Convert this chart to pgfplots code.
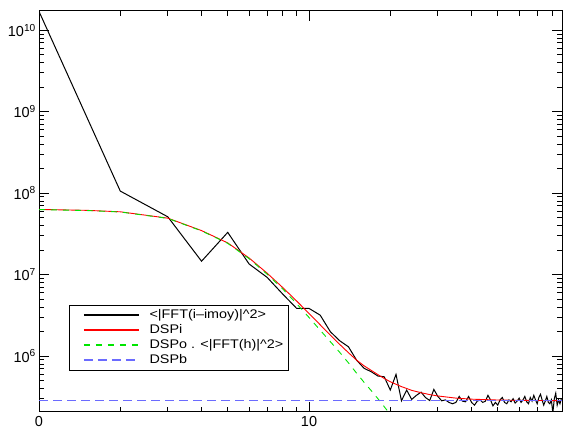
\documentclass[border=0pt]{standalone}
\usepackage{pgfplots}
\pgfplotsset{compat=1.18}
\usepackage{fontspec}
\setmainfont{Liberation Sans}
\newfontfamily\legfont[FakeStretch=1.15]{Liberation Sans}
\definecolor{dspb}{rgb}{0.42,0.42,1}
\definecolor{dspo}{rgb}{0,0.9,0}
\begin{document}
\begin{tikzpicture}
\begin{axis}[
  xmode=log, ymode=log,
  scale only axis, width=523pt, height=401pt,
  xmin=1, xmax=86.5, ymin=2.06e5, ymax=1.72e10,
  xtick={1,10}, xticklabels={0,10},
  minor xtick={2,3,4,5,6,7,8,9,20,30,40,50,60,70,80},
  ytick={1e6,1e7,1e8,1e9,1e10},
  yticklabels={10\textsuperscript{6},10\textsuperscript{7},10\textsuperscript{8},10\textsuperscript{9},10\textsuperscript{10}},
  minor ytick={3e5,4e5,5e5,6e5,7e5,8e5,9e5,2e6,3e6,4e6,5e6,6e6,7e6,8e6,9e6,2e7,3e7,4e7,5e7,6e7,7e7,8e7,9e7,2e8,3e8,4e8,5e8,6e8,7e8,8e8,9e8,2e9,3e9,4e9,5e9,6e9,7e9,8e9,9e9},
  major tick length=10pt, minor tick length=5pt,
  tick style={black, line width=0.8pt},
  axis line style={line width=1pt},
  tick align=inside,
  ticklabel style={font=\fontsize{14.5}{16}\selectfont, inner sep=2pt},
  yticklabel style={xshift=-1pt},
  xticklabel style={yshift=-2pt},
  legend cell align=left,
  legend style={at={(0.0574,0.1035)}, anchor=south west, draw=black, line width=0.8pt, fill=white,
    font=\legfont\fontsize{12.5}{14}\selectfont, inner xsep=5pt, inner ysep=4pt, row sep=3pt, column sep=10pt,
    nodes={inner sep=0pt, text height=9pt, text depth=3pt}},
  legend image code/.code={\path (0pt,0pt); \draw[#1, line width=1.3pt] (9pt,0pt) -- (64pt,0pt);},
]
\addplot[color=black, draw=black, line width=1pt] coordinates {
(1,1.70e10) (2,1.06e8) (3,5.12e7) (4,1.46e7) (5,3.30e7) (6,1.35e7) (7,9.24e6) (8,5.75e6)
(9,3.85e6) (10,3.85e6) (11,3.18e6) (12,1.99e6) (13,1.54e6) (14,1.30e6) (15,8.93e5) (16,7.07e5)
(17,6.43e5) (18,5.69e5) (19,5.57e5) (20,3.83e5) (21,5.97e5) (22,2.83e5) (23,3.83e5) (24,2.94e5)
(25,3.30e5) (26,3.61e5) (27,3.10e5) (28,2.85e5) (29,3.90e5) (30,3.20e5) (31,2.83e5) (32,2.90e5)
(33,2.70e5) (34,2.60e5) (35,2.70e5) (36,3.20e5) (37,2.80e5) (38,2.75e5) (39,3.20e5) (40,2.70e5)
(41,2.50e5) (42,2.80e5) (43,2.90e5) (44,2.70e5) (45,2.80e5) (46,3.30e5) (47,2.90e5) (48,2.45e5)
(49,2.70e5) (50,2.50e5) (51,2.90e5) (52,3.10e5) (53,2.70e5) (54,2.60e5) (55,2.90e5) (56,2.75e5)
(57,3.00e5) (58,2.65e5) (59,2.80e5) (60,3.05e5) (61,2.70e5) (62,2.90e5) (63,3.20e5) (64,2.75e5)
(65,2.60e5) (66,3.10e5) (67,2.80e5) (68,3.30e5) (69,2.90e5) (70,2.60e5) (71,3.10e5) (72,3.40e5)
(73,2.90e5) (74,2.50e5) (75,2.80e5) (76,3.20e5) (77,2.70e5) (78,2.60e5) (79,2.90e5) (80,2.00e5)
(81,3.00e5) (82,3.50e5) (83,2.50e5) (84,2.90e5) (85,2.60e5) (86,3.00e5)
};
\addlegendentry{<|FFT(i–imoy)|\textasciicircum 2>}
\addplot[color=red, draw=red, line width=0.9pt] coordinates {
(1,6.31e7) (1.5,6.15e7) (2,5.90e7) (3,4.93e7) (4,3.47e7) (5,2.45e7) (6,1.60e7) (7,1.04e7)
(8,6.92e6) (9,4.74e6) (10,3.34e6) (11,2.42e6) (12,1.81e6) (13,1.39e6) (14,1.10e6) (15,8.93e5)
(16,7.59e5) (17,6.68e5) (18,5.92e5) (19,5.31e5) (20,4.84e5) (22,4.22e5) (24,3.80e5) (26,3.55e5)
(28,3.37e5) (30,3.24e5) (35,3.05e5) (40,2.96e5) (50,2.89e5) (60,2.86e5) (86,2.84e5)
};
\addlegendentry{DSPi}
\addplot[color=dspo, draw=dspo, line width=0.9pt, dash pattern=on 6pt off 6pt] coordinates {
(1,6.28e7) (1.5,6.12e7) (2,5.87e7) (3,4.90e7) (4,3.44e7) (5,2.42e7) (6,1.57e7) (7,1.01e7)
(8,6.64e6) (9,4.40e6) (10,2.98e6) (11,2.08e6) (12,1.50e6) (13,1.11e6) (14,8.25e5) (15,6.18e5)
(16,4.76e5) (17,3.77e5) (18,3.00e5) (19,2.39e5) (20,1.93e5) (21,1.58e5)
};
\addlegendentry{DSPo . <|FFT(h)|\textasciicircum 2>}
\addplot[color=dspb, draw=dspb, line width=0.9pt, dash pattern=on 9pt off 5pt] coordinates {
(1,2.83e5) (86.5,2.83e5)
};
\addlegendentry{DSPb}
\end{axis}
\pgfresetboundingbox
\path[use as bounding box] ([shift={(-39pt,-16pt)}]current axis.south west) rectangle ([shift={(1pt,11pt)}]current axis.north east);
\end{tikzpicture}
\end{document}
